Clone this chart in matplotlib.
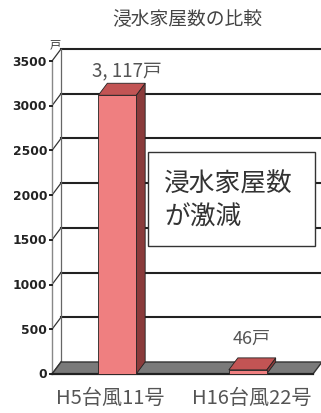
import numpy as np
import matplotlib
matplotlib.use('Agg')
import matplotlib.pyplot as plt
from matplotlib.patches import Polygon, Rectangle

plt.rcParams['font.family'] = ['Noto Sans CJK JP', 'DejaVu Sans']

# data
categories = ['H5台風11号', 'H16台風22号']
values = [3117, 46]
value_labels = ['3, 117戸', '46戸']
yticks = [0, 500, 1000, 1500, 2000, 2500, 3000, 3500]
title = '浸水家屋数の比較'
note = '浸水家屋数\nが激減'

W, H = 321, 414
fig = plt.figure(figsize=(W / 100, H / 100), dpi=100)
# front plane of the plot area (pixels -> fractions)
x0, x1, y0, y1 = 52, 313, 375, 62
ax = fig.add_axes([x0 / W, 1 - y0 / H, (x1 - x0) / W, (y0 - y1) / H])
ax.set_xlim(-0.5, 1.5)
ax.set_ylim(0, 3500)
ax.axis('off')

# 3d depth offset in data units
px_x = 2.0 / (x1 - x0)
px_y = 3500 / (y0 - y1)
dx, dy = 9 * px_x, 12 * px_y
xa, xb = -0.5, 1.5
wall_right = xb + 8 * px_x

# back wall and gridlines
ax.add_patch(Polygon([(xa + dx, dy), (wall_right, dy), (wall_right, 3500 + dy), (xa + dx, 3500 + dy)],
                     closed=True, fc='white', ec='none', clip_on=False, zorder=0))
for v in yticks[1:]:
    ax.plot([xa + dx, wall_right], [v + dy, v + dy], color='#222222', lw=1.5, clip_on=False, zorder=1)
    # side wall lines
    ax.plot([xa, xa + dx], [v, v + dy], color='#333333', lw=0.9, clip_on=False, zorder=1)
ax.plot([xa + dx, xa + dx], [dy, 3500 + dy], color='#666666', lw=0.9, clip_on=False, zorder=1)
ax.plot([xa, xa], [0, 3500], color='#888888', lw=1.0, clip_on=False, zorder=1)
ax.plot([xa, xa + dx], [0, dy], color='#333333', lw=0.9, clip_on=False, zorder=1)

# floor
ax.add_patch(Polygon([(xa, 0), (xb, 0), (xb + dx, dy), (xa + dx, dy)], closed=True,
                     fc='#7a7a7a', ec='#333333', lw=1.0, clip_on=False, zorder=2))
ax.plot([xa, xb], [0, 0], color='#222222', lw=1.6, clip_on=False, zorder=2)

# y tick labels
for v in yticks:
    ax.text(xa - 5 * px_x, v, str(v), ha='right', va='center', fontsize=8.8,
            fontweight='bold', family=['Liberation Sans Narrow', 'DejaVu Sans'], color='#222222')
    ax.plot([xa - 2 * px_x, xa], [v, v], color='#222222', lw=1.4, clip_on=False)
ax.text(xa + 3 * px_x, 3500 + 17 * px_y, '戸', ha='center', va='center', fontsize=8, color='#333333')

# 3d bars
bw = 0.29
for i, v in enumerate(values):
    l, r = i - bw / 2, i + bw / 2
    ax.add_patch(Polygon([(r, 0), (r + dx, dy), (r + dx, v + dy), (r, v)], closed=True,
                         fc='#8a3b3b', ec='#222222', lw=0.6, clip_on=False, zorder=4))
    ax.add_patch(Polygon([(l, v), (r, v), (r + dx, v + dy), (l + dx, v + dy)], closed=True,
                         fc='#c25454', ec='#222222', lw=0.6, clip_on=False, zorder=4))
    ax.add_patch(Rectangle((l, 0), bw, v, fc='#ef7f80', ec='#222222', lw=0.6, clip_on=False, zorder=5))

ax.text(0.07, 3270, value_labels[0], ha='center', va='bottom', fontsize=13.5, color='#555555')
ax.text(1.03, 300, value_labels[1], ha='center', va='bottom', fontsize=13, color='#555555')

for i, c in enumerate(categories):
    ax.text(i - 0.05 + 0.08 * i, -150, c, ha='center', va='top', fontsize=14.5, color='#555555')

fig.text(187 / W, 1 - 20 / H, title, ha='center', va='center', fontsize=13.5, color='#444444')

# annotation box
fig.patches.append(Rectangle((148 / W, 1 - 247 / H), 167 / W, 94 / H, transform=fig.transFigure,
                             fc='white', ec='#333333', lw=1.0, zorder=6))
fig.text(164 / W, 1 - 201 / H, note, ha='left', va='center', fontsize=18.5, color='#333333',
         linespacing=1.35, zorder=7)

fig.savefig('out.png', dpi=100)
